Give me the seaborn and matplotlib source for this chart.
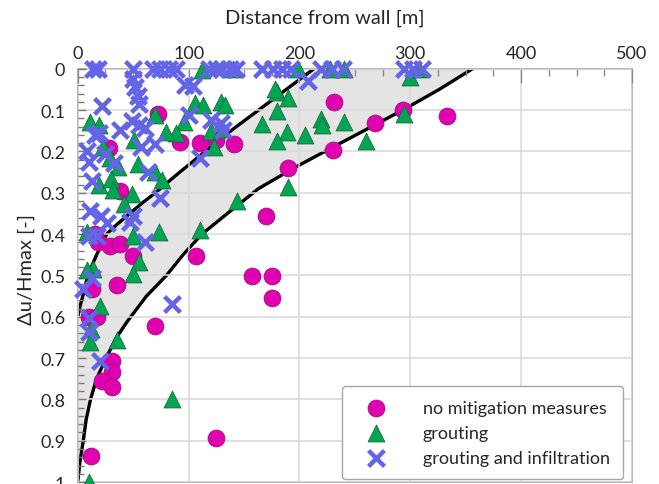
import matplotlib
matplotlib.use("Agg")
import matplotlib.pyplot as plt
import seaborn as sns
import pandas as pd
from matplotlib.ticker import MultipleLocator

# no mitigation measures (distance [m], du/Hmax [-])
none_x = [333, 293, 268, 231, 230, 190, 141, 125, 110, 92, 72, 28, 38, 170, 107,
          157, 175, 175, 50, 35, 13, 10, 17, 70, 31, 31, 22, 31, 125, 12, 18, 29, 38, 16]
none_y = [0.115, 0.099, 0.131, 0.081, 0.196, 0.241, 0.183, 0.172, 0.18, 0.178, 0.109,
          0.192, 0.295, 0.357, 0.454, 0.502, 0.502, 0.555, 0.452, 0.523, 0.533, 0.60,
          0.60, 0.622, 0.708, 0.734, 0.755, 0.771, 0.894, 0.936, 0.42, 0.428, 0.424, 0.40]

# grouting
grout_x = [112, 140, 199, 228, 240, 300, 308, 106, 113, 129, 133, 166, 70, 96, 89, 80,
           120, 130, 123, 51, 11, 19, 23, 29, 36, 54, 70, 76, 19, 30, 32, 49, 42, 50, 73,
           110, 144, 190, 189, 180, 180, 180, 190, 205, 219, 220, 240, 260, 294, 178,
           14, 8, 55, 50, 20, 12, 11, 35, 85, 8, 10]
grout_y = [0.004, 0.0, 0.0, 0.0, 0.0, 0.02, 0.0, 0.083, 0.087, 0.081, 0.088, 0.133, 0.112,
           0.129, 0.155, 0.153, 0.151, 0.145, 0.19, 0.172, 0.129, 0.137, 0.19, 0.215,
           0.238, 0.23, 0.25, 0.27, 0.282, 0.266, 0.293, 0.303, 0.327, 0.404, 0.395,
           0.389, 0.321, 0.286, 0.153, 0.175, 0.101, 0.056, 0.071, 0.161, 0.121, 0.137,
           0.129, 0.175, 0.109, 0.048, 0.484, 0.488, 0.468, 0.496, 0.575, 0.63, 0.662,
           0.657, 0.799, 0.395, 1.0]

# grouting and infiltration
infil_x = [14, 18, 50, 68, 74, 82, 89, 118, 125, 130, 137, 143, 166, 176, 184, 192, 219,
           229, 239, 294, 302, 311,
           50, 52, 54, 55, 22, 97, 104, 100, 120, 129, 131, 49, 55, 38, 61, 19, 16, 70,
           57, 110, 8, 10, 25, 33, 63, 13, 74, 11, 21, 50, 47, 26, 10, 17, 61, 13, 5,
           85, 10, 10, 20, 208]
infil_y = [0.0] * 22 + [
           0.025, 0.045, 0.065, 0.085, 0.089, 0.038, 0.042, 0.111, 0.123, 0.131, 0.149,
           0.127, 0.137, 0.149, 0.143, 0.155, 0.161, 0.182, 0.19, 0.216, 0.198, 0.226,
           0.206, 0.228, 0.25, 0.272, 0.313, 0.343, 0.357, 0.355, 0.371, 0.373, 0.404,
           0.404, 0.42, 0.506, 0.533, 0.569, 0.603, 0.638, 0.706, 0.03]

# envelope curves
upper_x = [0, 2, 4.5, 9, 17, 26, 36, 47, 58, 70, 92, 115, 138, 163, 188, 213]
upper_y = [0.60, 0.575, 0.55, 0.50, 0.45, 0.40, 0.375, 0.35, 0.325, 0.30, 0.25, 0.20,
           0.15, 0.10, 0.05, 0.0]
lower_x = [356, 326, 293, 258, 227, 195, 163, 135, 112, 95, 80, 62, 45, 35, 25.5, 17,
           11.5, 7.5, 5, 2, 0]
lower_y = [0.0, 0.05, 0.10, 0.15, 0.194, 0.24, 0.29, 0.35, 0.40, 0.45, 0.50, 0.55, 0.61,
           0.65, 0.70, 0.75, 0.80, 0.85, 0.90, 0.95, 1.0]

y_ticks = [0, 0.1, 0.2, 0.3, 0.4, 0.5, 0.6, 0.7, 0.8, 0.9, 1.0]
y_tick_labels = ['0', '0.1', '0.2', '0.3', '0.4', '0.5', '0.6', '0.7', '0.8', '0.9', '1']
x_ticks = [0, 100, 200, 300, 400, 500]

sns.set_style("white")
plt.rcParams['font.family'] = ['Lato', 'DejaVu Sans']

fig = plt.figure(figsize=(6.59, 4.85), dpi=100)
ax = fig.add_axes([0.118, 0.004, 0.841, 0.852])

# grey band between the two curves
ax.fill(upper_x + lower_x + [0], upper_y + lower_y + [0.6],
        color='#e4e4e4', lw=0, zorder=0.3)
ax.plot(upper_x, upper_y, color='black', lw=2.4, zorder=2)
ax.plot(lower_x, lower_y, color='black', lw=2.4, zorder=2)

df_none = pd.DataFrame({'x': none_x, 'y': none_y})
df_grout = pd.DataFrame({'x': grout_x, 'y': grout_y})
df_infil = pd.DataFrame({'x': infil_x, 'y': infil_y})

sns.scatterplot(data=df_none, x='x', y='y', ax=ax, marker='o', s=150,
                color='#e000b0', edgecolor='#8a1a70', linewidth=0.5,
                label='no mitigation measures', zorder=3, clip_on=False)
sns.scatterplot(data=df_grout, x='x', y='y', ax=ax, marker='^', s=150,
                color='#00a651', edgecolor='#1d5e35', linewidth=0.5,
                label='grouting', zorder=4, clip_on=False)
sns.scatterplot(data=df_infil, x='x', y='y', ax=ax, marker='x', s=130,
                color='#6464e6', linewidth=3.2,
                label='grouting and infiltration', zorder=5, clip_on=False)

ax.set_xlim(0, 500)
ax.set_ylim(1, 0)
ax.xaxis.tick_top()
ax.xaxis.set_label_position('top')
ax.set_xticks(x_ticks)
ax.set_yticks(y_ticks)
ax.set_yticklabels(y_tick_labels)
ax.xaxis.set_minor_locator(MultipleLocator(25))
ax.yaxis.set_minor_locator(MultipleLocator(0.02))
ax.tick_params(axis='x', which='major', direction='in', length=10, width=1,
               color='#8c8c8c', labelsize=13, pad=6, top=True, bottom=False)
ax.tick_params(axis='x', which='minor', direction='in', length=5, width=1,
               color='#8c8c8c', top=True, bottom=False)
ax.tick_params(axis='y', which='major', direction='in', length=6, width=1,
               color='#7a7a7a', labelsize=13, pad=9, left=True)
ax.tick_params(axis='y', which='minor', direction='in', length=4.5, width=1,
               color='#7a7a7a', left=True)

ax.grid(True, which='major', color='#d9d9d9', lw=1.1, zorder=0.5)
ax.set_axisbelow(False)
for sp in ax.spines.values():
    sp.set_color('#a6a6a6')
    sp.set_linewidth(1.1)

ax.set_xlabel('Distance from wall [m]', fontsize=14.5)
ax.set_ylabel('Δu/Hmax [-]', fontsize=14.5)
ax.xaxis.set_label_coords(0.445, 1.112)
ax.yaxis.set_label_coords(-0.078, 0.516)

leg = ax.legend(loc='lower right', bbox_to_anchor=(0.984, 0.007), fontsize=13,
                frameon=True, fancybox=True, edgecolor='#a6a6a6', framealpha=1,
                handlelength=2.2, handletextpad=1.5, borderpad=0.75,
                labelspacing=0.5, borderaxespad=0)
leg.get_frame().set_linewidth(1.0)

fig.savefig('out.png', dpi=100)
